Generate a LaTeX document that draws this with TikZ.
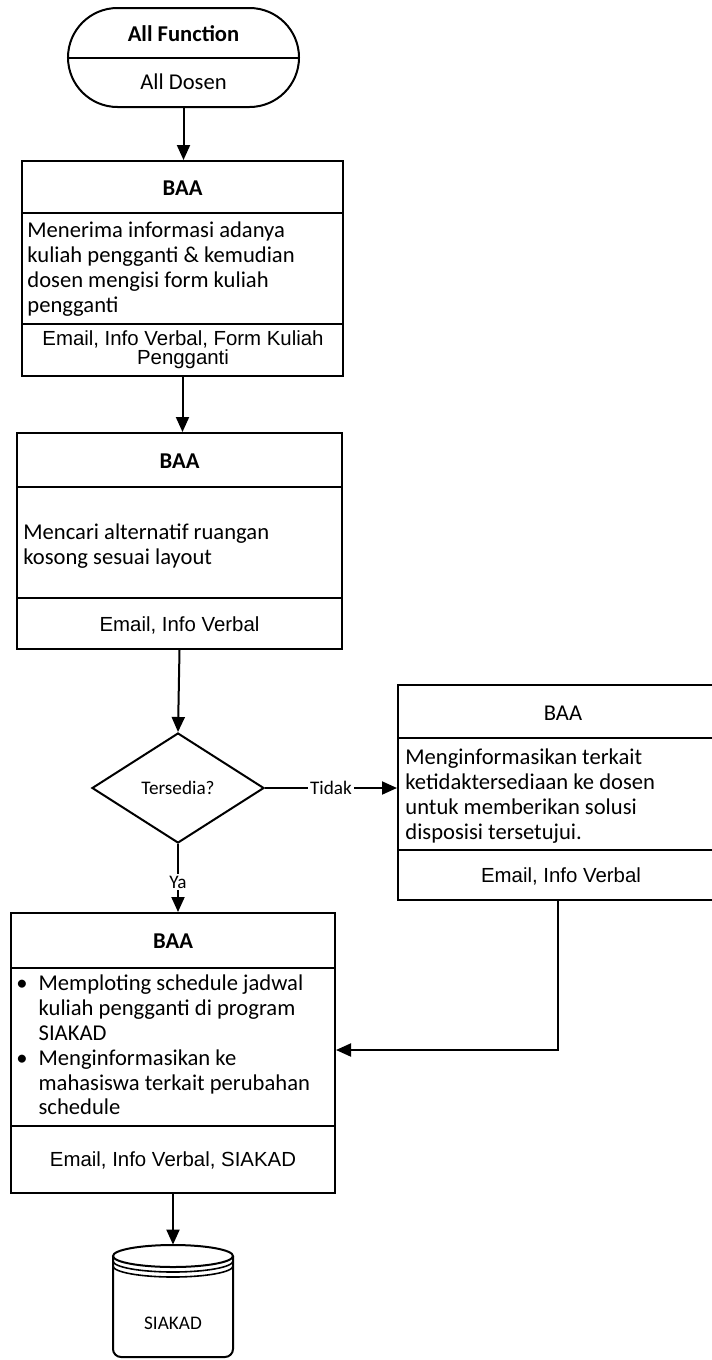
\documentclass[tikz,border=0pt]{standalone}
\usepackage{fontspec}
\setmainfont{Carlito}
\newfontfamily\arialfont{Liberation Sans}
\usetikzlibrary{arrows.meta,shapes.geometric,shapes.misc,calc}

\begin{document}
\begin{tikzpicture}[x=0.5pt,y=-0.5pt,
  frame/.style={draw, line width=1pt, rectangle, inner sep=0pt},
  rule/.style={line width=1pt},
  conn/.style={line width=1pt, -{Triangle[length=7.5pt,width=6.5pt]}},
  head/.style={font=\bfseries\fontsize{11.3}{13}\selectfont, inner sep=0pt},
  headlight/.style={font=\fontsize{11.3}{13}\selectfont, inner sep=0pt},
  body/.style={font=\fontsize{11.3}{12.4}\selectfont, align=left, inner sep=0pt},
  media/.style={font=\arialfont\fontsize{10.2}{9.4}\selectfont, align=center, inner sep=0pt},
  small/.style={font=\fontsize{9.6}{11}\selectfont, inner sep=0pt},
  lbl/.style={font=\fontsize{9.6}{11}\selectfont, fill=white, inner sep=1pt}
]
\useasboundingbox (0,0) rectangle (712,1360);

% start terminator
\node[draw, line width=1pt, rounded rectangle, minimum width=115.5pt,
      minimum height=49.5pt, inner sep=0pt] (term) at (183.5,57.5) {};
\draw[rule] (term.west) -- (term.east);
\node[head] (termA) at (183.5,34) {All Function};
\node[headlight] (termB) at (183.5,82) {All Dosen};

% box 1
\node[frame, minimum width=160.5pt, minimum height=107.5pt] (b1) at (182.5,268.5) {};
\draw[rule] (22,213) -- (343,213);
\draw[rule] (22,324) -- (343,324);
\node[head] (b1h) at (182.5,188) {BAA};
\node[body, anchor=west] (b1t) at (27,269) {Menerima informasi adanya\\kuliah pengganti \& kemudian\\dosen mengisi form kuliah\\pengganti};
\node[media] (b1m) at (183,350) {Email, Info Verbal, Form Kuliah\\Pengganti};

% box 2
\node[frame, minimum width=162.5pt, minimum height=108pt] (b2) at (179.5,541) {};
\draw[rule] (17,487) -- (342,487);
\draw[rule] (17,598) -- (342,598);
\node[head] (b2h) at (179.5,461) {BAA};
\node[body, anchor=west] (b2t) at (23,546) {Mencari alternatif ruangan\\kosong sesuai layout};
\node[media] (b2m) at (179.5,625) {Email, Info Verbal};

% decision
\node[draw, line width=1pt, diamond, minimum width=86pt, minimum height=55pt,
      inner sep=0pt, small] (dec) at (178,788) {Tersedia?};

% box 3
\node[frame, minimum width=164pt, minimum height=107.5pt] (b3) at (562,792.5) {};
\draw[rule] (398,738) -- (726,738);
\draw[rule] (398,850) -- (726,850);
\node[headlight] (b3h) at (563,713) {BAA};
\node[body, anchor=west] (b3t) at (405,796) {Menginformasikan terkait\\ketidaktersediaan ke dosen\\untuk memberikan solusi\\disposisi tersetujui.};
\node[media] (b3m) at (561,876) {Email, Info Verbal};

% box 4
\node[frame, minimum width=162pt, minimum height=140pt] (b4) at (173,1053) {};
\draw[rule] (12,968) -- (334,968);
\draw[rule] (12,1126) -- (334,1126);
\node[head] (b4h) at (173,941) {BAA};
\node[body, anchor=west] (b4t) at (16,1048) {%
  \begin{tabular}{@{}c@{\hspace{5.5pt}}l@{}}
  \textbullet & Memploting schedule jadwal\\
   & kuliah pengganti di program\\
   & SIAKAD\\
  \textbullet & Menginformasikan ke\\
   & mahasiswa terkait perubahan\\
   & schedule
  \end{tabular}};
\node[media] (b4m) at (173,1160) {Email, Info Verbal, SIAKAD};

% database
\node[minimum width=60pt, minimum height=56pt, inner sep=0pt] (db) at (173,1301) {};
\draw[rule, rounded corners=4pt] (113,1256) -- (113,1357) -- (233,1357) -- (233,1256);
\draw[rule, fill=white] (173,1256) ellipse [x radius=60, y radius=11];
\draw[line width=0.8pt] (113,1261) arc[start angle=180, end angle=0, x radius=60, y radius=11];
\draw[line width=0.8pt] (113,1266) arc[start angle=180, end angle=0, x radius=60, y radius=11];
\node[small] (dbl) at (173,1323) {SIAKAD};

% connectors
\draw[conn] (term.south) -- (term.south |- b1.north);
\draw[conn] (b1.south) -- (b1.south |- b2.north);
\draw[conn] (b2.south) -- (dec.north);
\draw[conn] (dec.east) -- (dec.east -| b3.west) node[lbl, pos=0.5] {Tidak};
\draw[conn] (dec.south) -- (dec.south |- b4.north) node[lbl, pos=0.56] {Ya};
\coordinate (bend) at (558,1050);
\draw[conn] (b3.south -| bend) -- (bend) -- (bend -| b4.east);
\draw[conn] (b4.south) -- (db.north);
\end{tikzpicture}
\end{document}
